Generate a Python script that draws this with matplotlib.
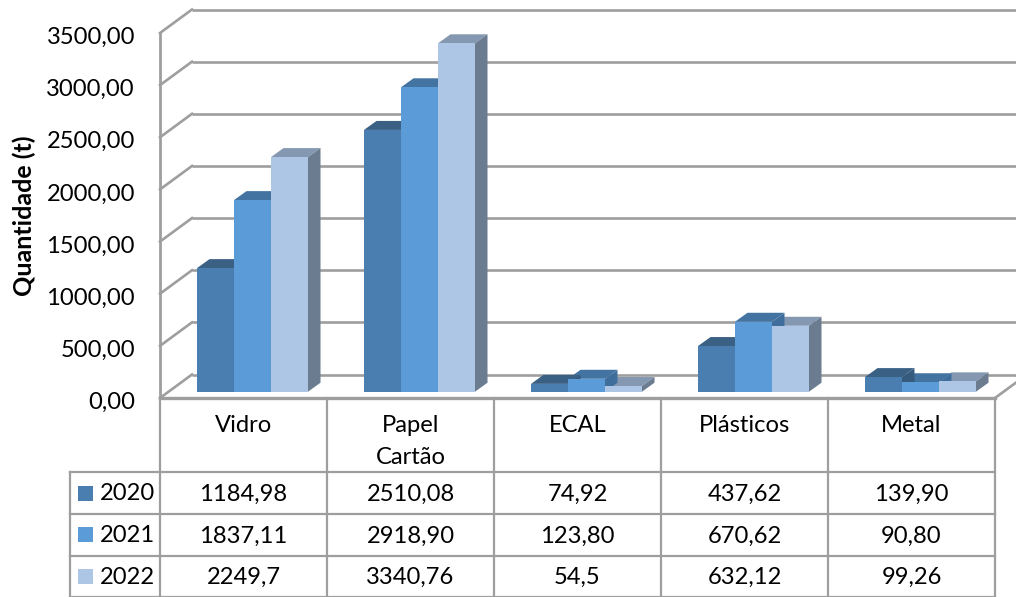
import matplotlib
matplotlib.use("Agg")
import matplotlib.pyplot as plt
from matplotlib.lines import Line2D
from matplotlib.patches import Polygon, Rectangle
from matplotlib.transforms import Affine2D, IdentityTransform

categories = ["Vidro", "Papel\nCartão", "ECAL", "Plásticos", "Metal"]
years = ["2020", "2021", "2022"]
v2020 = [1184.98, 2510.08, 74.92, 437.62, 139.90]
v2021 = [1837.11, 2918.90, 123.80, 670.62, 90.80]
v2022 = [2249.7, 3340.76, 54.5, 632.12, 99.26]
l2020 = ["1184,98", "2510,08", "74,92", "437,62", "139,90"]
l2021 = ["1837,11", "2918,90", "123,80", "670,62", "90,80"]
l2022 = ["2249,7", "3340,76", "54,5", "632,12", "99,26"]
yticks = [0, 500, 1000, 1500, 2000, 2500, 3000, 3500]
ylabels = ["0,00", "500,00", "1000,00", "1500,00", "2000,00", "2500,00", "3000,00", "3500,00"]
series = [v2020, v2021, v2022]
labels = [l2020, l2021, l2022]
front = ["#4A7DB0", "#5B9BD7", "#ADC6E6"]
top = ["#3A6084", "#4273A1", "#8499B1"]
side = ["#365A7E", "#3F6E9C", "#6B7C90"]
GRID = "#9E9E9E"
FONT = "Lato"
FS = 17.1

W, H = 1016, 597
fig = plt.figure(figsize=(W / 100, H / 100), dpi=100, facecolor="white")
ax = fig.add_axes([160 / W, (H - 398) / H, 835 / W, 365 / H])
ax.set_xlim(0, 5)
ax.set_ylim(0, 3500)
ax.axis("off")


def fx(x):
    return x / W


def fy(y):
    return 1 - y / H


def fline(xs, ys, lw=1.6, color=GRID):
    fig.add_artist(Line2D([fx(x) for x in xs], [fy(y) for y in ys], color=color, lw=lw,
                          solid_capstyle="projecting", zorder=1))


def ftext(x, y, s, **kw):
    fig.text(fx(x), fy(y), s, family=FONT, fontsize=FS, color="#000000", **kw)


# walls and gridlines
BACK_DX, BACK_DY = 32, 23.5
back = Affine2D().translate(BACK_DX, BACK_DY)
for t in yticks:
    ax.plot([0, 5.2], [t, t], color=GRID, lw=1.9, clip_on=False, zorder=1,
            transform=ax.transData + back, solid_capstyle="butt")
    p0 = ax.transData.transform((0, t))
    ax.add_line(Line2D([p0[0], p0[0] + BACK_DX], [p0[1], p0[1] + BACK_DY], color=GRID, lw=1.9,
                       transform=IdentityTransform(), clip_on=False, zorder=1))
ax.plot([0, 0], [0, 3500], color=GRID, lw=2.0, clip_on=False, zorder=1)
ax.plot([0, 5], [0, 0], color=GRID, lw=2.4, clip_on=False, zorder=4)
pr = ax.transData.transform((5, 0))
ax.add_line(Line2D([pr[0], pr[0] + BACK_DX], [pr[1], pr[1] + BACK_DY], color=GRID, lw=1.9,
                   transform=IdentityTransform(), clip_on=False, zorder=1))

# bars
BW = 37 / 167
SHIFT = (0, 6.3)
DEPTH = (12.5, 9.0)
base = ax.transData + Affine2D().translate(*SHIFT)
for i in range(len(categories)):
    x0 = i + BW
    for j in reversed(range(3)):
        v = series[j][i]
        xl = x0 + j * BW
        a = base.transform((xl, v))
        b = base.transform((xl + BW, v))
        c = base.transform((xl + BW, 0))
        dx, dy = DEPTH
        ax.add_patch(Polygon([a, b, (b[0] + dx, b[1] + dy), (a[0] + dx, a[1] + dy)], closed=True,
                             facecolor=top[j], edgecolor="none", transform=IdentityTransform(),
                             clip_on=False, zorder=2))
        ax.add_patch(Polygon([c, b, (b[0] + dx, b[1] + dy), (c[0] + dx, c[1] + dy)], closed=True,
                             facecolor=side[j], edgecolor="none", transform=IdentityTransform(),
                             clip_on=False, zorder=2))
for j in range(3):
    xs = [i + BW + (j + 0.5) * BW for i in range(len(categories))]
    ax.bar(xs, series[j], width=BW, color=front[j], linewidth=0, transform=base, clip_on=False, zorder=3)

# y axis text
for t, s in zip(yticks, ylabels):
    py = ax.transData.transform((0, t))[1]
    fig.text(fx(135), (py - 4.5) / H, s, ha="right", va="center", family=FONT, fontsize=FS, color="#000000")
fig.text(fx(24), fy(216), "Quantidade (t)", rotation=90, ha="center", va="center", family=FONT,
         fontsize=18, fontweight="bold", color="#000000")

# data table
col_x = [160 + 167 * k for k in range(6)]
rows_y = [472.3, 514, 555.7, 596.6]
for k, x in enumerate(col_x):
    fline([x, x], [398, 596.6])
fline([69.5, 69.5], [472.3, 596.6])
for y in rows_y:
    fline([69.5, 995], [y, y])

for k, c in enumerate(categories):
    cx = (col_x[k] + col_x[k + 1]) / 2
    for n, part in enumerate(c.split("\n")):
        ftext(cx, 426 + 31 * n, part, ha="center", va="center")
row_c = [493, 534.5, 576]
for j in range(3):
    fig.add_artist(Rectangle((fx(78), fy(row_c[j] + 7.5)), 15 / W, 15 / H, transform=fig.transFigure,
                             facecolor=front[j], edgecolor="none"))
    ftext(100, row_c[j] + 1, years[j], ha="left", va="center")
    for k in range(5):
        ftext((col_x[k] + col_x[k + 1]) / 2, row_c[j] + 1.5, labels[j][k], ha="center", va="center")

fig.savefig("out.png", dpi=100)
